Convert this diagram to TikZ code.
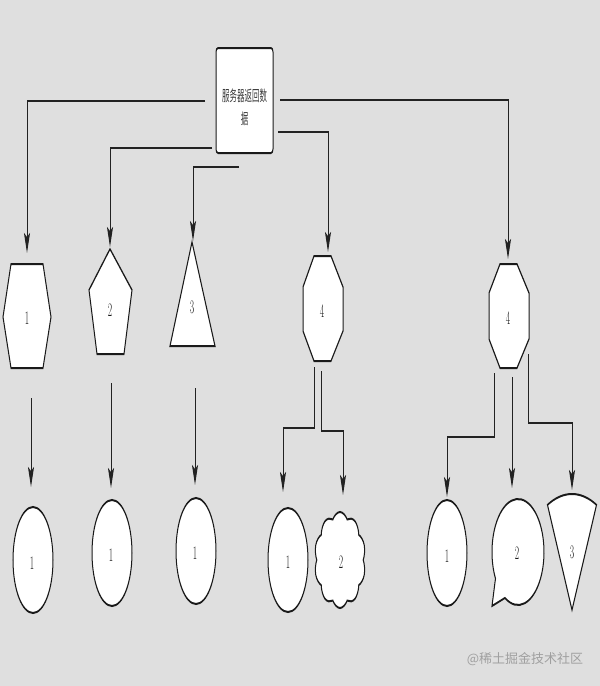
\documentclass[tikz,border=0pt]{standalone}
\usepackage{fontspec}
\newfontfamily\cjk{Noto Sans CJK SC}
\usetikzlibrary{arrows.meta,shapes.symbols}
\definecolor{bg}{HTML}{DFDFDF}
\definecolor{ink}{HTML}{1A1A1A}
\definecolor{lineink}{HTML}{222222}
\definecolor{wm}{HTML}{A0A0A0}
\begin{document}
\begin{tikzpicture}[x=1pt,y=-1pt]
\fill[bg] (0,0) rectangle (600,686);
\useasboundingbox (0,0) rectangle (600,686);
\node[text=wm, font=\cjk\fontsize{13}{15}\selectfont, inner sep=0pt] (wmark) at (525,659) {@稀土掘金技术社区};
\begin{scope}[transform canvas={xscale=0.5}, x=2pt, y=-1pt,
  shp/.style={draw=ink, line width=2pt, fill=white, line join=miter},
  conn/.style={draw=lineink, line width=2pt},
  arr/.style={conn, -{Stealth[length=20pt,width=12pt,inset=4pt]}},
  lbl/.style={text=ink, font=\fontsize{19}{22}\selectfont, inner sep=0pt}]
% top box
\draw[shp, rounded corners=4pt] (216,48) rectangle (273,153);
\node[text=ink!85, font=\cjk\fontsize{15}{23}\selectfont, align=center, inner sep=0pt] (top) at (244.5,107) {服务器返回数\\据};
% first row shapes
\draw[shp] (11,264) -- (43,264) -- (51,317) -- (43,368) -- (11,368) -- (3,317) -- cycle;
\node[lbl] (n1) at (27,318) {1};
\draw[shp] (110,249) -- (132,290) -- (124,354) -- (97,354) -- (89,290) -- cycle;
\node[lbl] (n2) at (110,310) {2};
\draw[shp] (192,242) -- (215,346) -- (170,346) -- cycle;
\node[lbl] (n3) at (192,307) {3};
\draw[shp] (314,256) -- (331,256) -- (343,287) -- (343,331) -- (331,361) -- (314,361) -- (303,331) -- (303,287) -- cycle;
\node[lbl] (n4) at (322,311) {4};
\draw[shp] (500,264) -- (517,264) -- (529,293) -- (529,339) -- (517,368) -- (500,368) -- (489,339) -- (489,293) -- cycle;
\node[lbl] (n5) at (508,318) {4};
% second row shapes
\draw[shp] (33,560) ellipse [x radius=40pt, y radius=53pt];
\node[lbl] (m1) at (32,563) {1};
\draw[shp] (112,553) ellipse [x radius=40pt, y radius=53pt];
\node[lbl] (m2) at (111,555) {1};
\draw[shp] (196,551) ellipse [x radius=40pt, y radius=53pt];
\node[lbl] (m3) at (195,553) {1};
\draw[shp] (288,560) ellipse [x radius=40pt, y radius=52pt];
\node[lbl] (m4) at (288,562) {1};
\node[shp, cloud, cloud puffs=10, cloud puff arc=110, minimum width=102pt, minimum height=96pt, inner sep=0pt] (cl) at (340,560) {};
\node[lbl] (m5) at (341,562) {2};
\draw[shp] (447,553) ellipse [x radius=40pt, y radius=53pt];
\node[lbl] (m6) at (447,556) {1};
\coordinate (bb) at (518,552);
\coordinate (btip) at (492,606);
\draw[shp] (bb) ++(240:52pt and 53pt) arc[start angle=240, end angle=570, x radius=52pt, y radius=53pt] -- (btip) -- cycle;
\node[lbl] (m7) at (517,553) {2};
\coordinate (sbot) at (572,610);
\draw[shp] (sbot) -- ++(115:116pt) arc[start angle=115, end angle=65, radius=116pt] -- cycle;
\node[lbl] (m8) at (572,552) {3};
% connector end points
\coordinate (b1) at (205,101); \coordinate (h1t) at (27,253);
\coordinate (b2) at (212,148); \coordinate (p2t) at (110,247);
\coordinate (b3) at (239,167); \coordinate (t3t) at (193,241);
\coordinate (b4) at (278,132); \coordinate (o4t) at (328,252);
\coordinate (b5) at (280,100); \coordinate (o5t) at (508,259);
\coordinate (h1b) at (31,398); \coordinate (e1t) at (31,487);
\coordinate (p2b) at (111,383); \coordinate (e2t) at (111,488);
\coordinate (t3b) at (195,388); \coordinate (e3t) at (195,485);
\coordinate (o4l) at (314,367); \coordinate (e4t) at (283,492);
\coordinate (o4r) at (321,371); \coordinate (clt) at (343,495);
\coordinate (o5l) at (494,373); \coordinate (e6t) at (447,497);
\coordinate (o5m) at (512,377); \coordinate (bbt) at (512,488);
\coordinate (o5r) at (528,354); \coordinate (sct) at (572,490);
% connectors
\draw[arr] (b1) -| (h1t);
\draw[arr] (b2) -| (p2t);
\draw[arr] (b3) -| (t3t);
\draw[arr] (b4) -| (o4t);
\draw[arr] (b5) -| (o5t);
\draw[arr] (h1b) -- (e1t);
\draw[arr] (p2b) -- (e2t);
\draw[arr] (t3b) -- (e3t);
\draw[arr] (o4l) -- ++(0,61) -| (e4t);
\draw[arr] (o4r) -- ++(0,60) -| (clt);
\draw[arr] (o5l) -- ++(0,64) -| (e6t);
\draw[arr] (o5m) -- (bbt);
\draw[arr] (o5r) -- ++(0,69) -| (sct);
\end{scope}
\end{tikzpicture}
\end{document}
